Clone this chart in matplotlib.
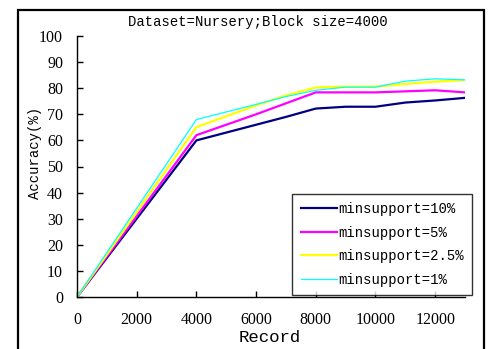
import matplotlib
matplotlib.use("Agg")
import matplotlib.pyplot as plt
from matplotlib.patches import Rectangle

records = [0, 4000, 6000, 7000, 8000, 9000, 10000, 11000, 12000, 13000]
acc_10 = [0, 60.0, 66.0, 69.0, 72.2, 72.9, 72.9, 74.5, 75.3, 76.3]
acc_5 = [0, 62.0, 70.0, 74.2, 78.4, 78.4, 78.4, 78.8, 79.2, 78.4]
acc_25 = [0, 65.1, 73.4, 77.2, 80.3, 80.6, 80.6, 81.6, 82.5, 83.1]
acc_1 = [0, 68.0, 73.8, 76.8, 79.2, 80.4, 80.4, 82.7, 83.6, 83.2]
labels = ["minsupport=10%", "minsupport=5%", "minsupport=2.5%", "minsupport=1%"]
colors = ["#000080", "#ff00ff", "#ffff00", "#00ffff"]
widths = [1.6, 1.6, 1.6, 0.9]
xticks = [0, 2000, 4000, 6000, 8000, 10000, 12000]
yticks = [0, 10, 20, 30, 40, 50, 60, 70, 80, 90, 100]

mono = "Liberation Mono"
serif = "Liberation Serif"

fig = plt.figure(figsize=(4.91, 3.49), dpi=100)
fig.patch.set_facecolor("white")
ax = fig.add_axes([77/491, 52/349, (465-77)/491, (297-36)/349])

for ys, lab, c, w in zip([acc_10, acc_5, acc_25, acc_1], labels, colors, widths):
    ax.plot(records, ys, color=c, lw=w, label=lab)

ax.set_xlim(0, 13000)
ax.set_ylim(0, 100)
ax.set_xticks(xticks)
ax.set_yticks(yticks)
ax.set_xticklabels([str(v) for v in xticks], fontfamily=serif, fontsize=11.5)
ax.set_yticklabels([str(v) for v in yticks], fontfamily=serif, fontsize=11.5)
ax.tick_params(axis="both", direction="in", length=4, width=1, colors="black")
ax.tick_params(axis="y", pad=10)
ax.tick_params(axis="x", pad=11)
for s in ["top", "right"]:
    ax.spines[s].set_visible(False)
for s in ["left", "bottom"]:
    ax.spines[s].set_linewidth(1)

ax.set_xlabel("Record", fontfamily=mono, fontsize=12.5)
ax.xaxis.set_label_coords((270-77)/388, (297-338)/261)
ax.xaxis.label.set_va("center")
ax.set_ylabel("Accuracy(%)", fontfamily=mono, fontsize=10)
ax.yaxis.set_label_coords((35-77)/388, (297-153)/261)
ax.yaxis.label.set_va("center")

fig.text(258/491, 1 - 22/349, "Dataset=Nursery;Block size=4000", fontfamily=mono,
         fontsize=10, ha="center", va="center")

leg = ax.legend(loc="lower right", bbox_to_anchor=(472/491, 54/349), bbox_transform=fig.transFigure,
                prop={"family": mono, "size": 10}, frameon=True, fancybox=False,
                edgecolor="black", handlelength=2.6, handletextpad=0.1, labelspacing=0.68,
                borderpad=0.6, borderaxespad=0)
leg.get_frame().set_linewidth(1)

fig.patches.append(Rectangle((18/491, -0.05), (484-18)/491, 1.05 - 10/349,
                             transform=fig.transFigure, fill=False, edgecolor="black", lw=1.6))

fig.savefig("out.png", dpi=100)
